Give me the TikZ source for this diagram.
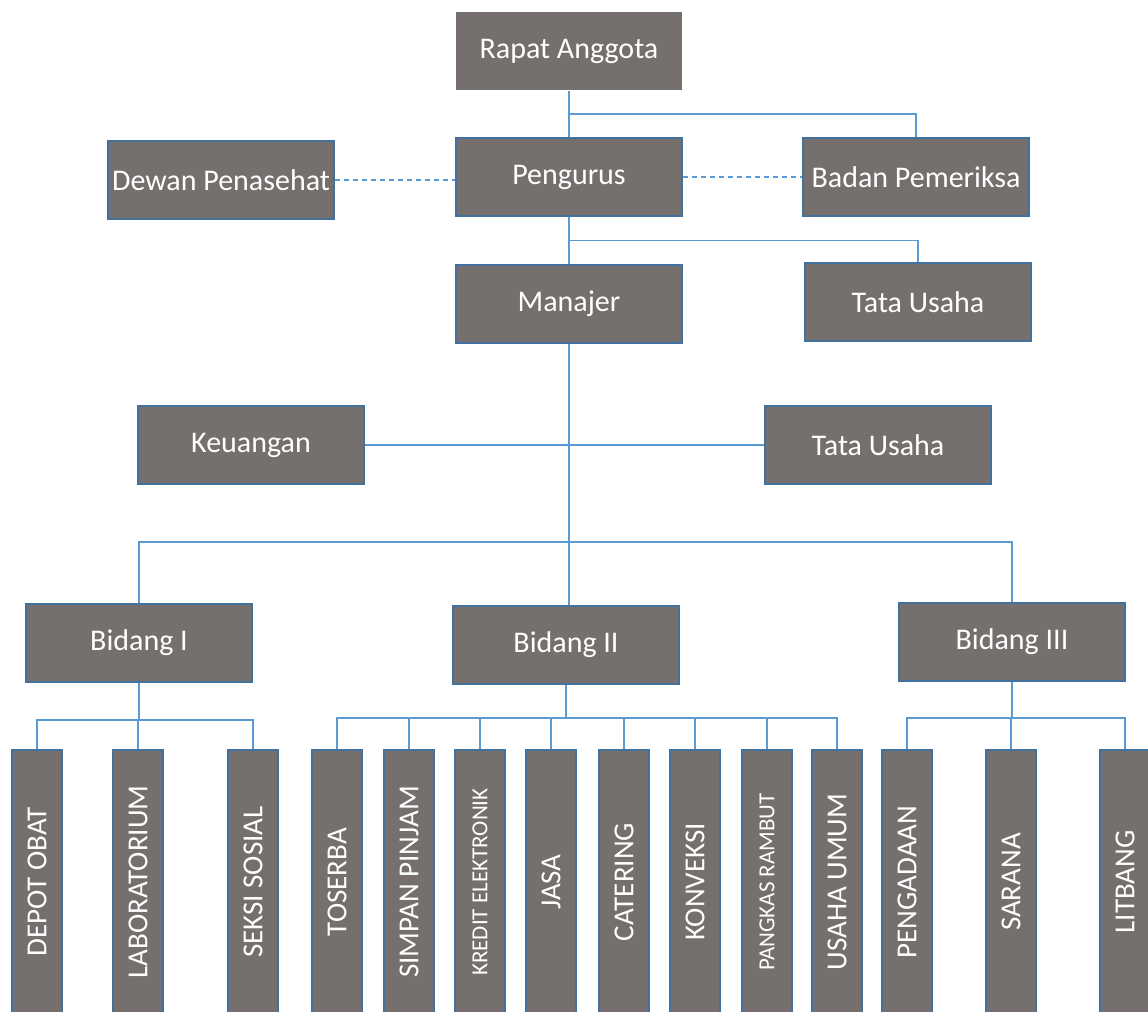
\documentclass[tikz,border=0pt]{standalone}
\usepackage{fontspec}
\setmainfont{Carlito}
\usepackage{tikz}
\usetikzlibrary{positioning, calc}
\definecolor{boxGray}{RGB}{117,112,110}
\definecolor{boxBorder}{RGB}{65,113,156}
\definecolor{linkBlue}{RGB}{91,155,213}
\tikzstyle{unitBox}=[draw=boxBorder, line width=1pt, fill=boxGray, text=white, minimum width=113pt, minimum height=39pt, inner sep=1pt, font=\fontsize{15}{18}\selectfont]
\tikzstyle{topBox}=[unitBox, draw=none]
\tikzstyle{sectionBox}=[unitBox, rotate=90, minimum width=132pt, minimum height=25pt]
\tikzstyle{orgLine}=[draw=linkBlue, line width=0.6pt]
\tikzstyle{adviceLine}=[orgLine, dash pattern=on 2.5pt off 2pt]

\begin{document}
\begin{tikzpicture}[x=0.5pt, y=-0.5pt]
      \useasboundingbox (0,0) rectangle (1148,1012);
      \clip (0,0) rectangle (1148,1012);

      % top of the chart
      \node[topBox] (rapat) at (569,51) {Rapat Anggota};
      \node[unitBox] (pengurus) at (569,177) {Pengurus};
      \node[unitBox] (dewan) at (221,180) {Dewan Penasehat};
      \node[unitBox] (badan) at (916,177) {Badan Pemeriksa};
      \node[unitBox] (manajer) at (569,304) {Manajer};
      \node[unitBox] (tataUsahaA) at (918,302) {Tata Usaha};
      \node[unitBox] (keuangan) at (251,445) {Keuangan};
      \node[unitBox] (tataUsahaB) at (878,445) {Tata Usaha};

      % bidang
      \node[unitBox] (bidang1) at (139,643) {Bidang I};
      \node[unitBox] (bidang2) at (566,645) {Bidang II};
      \node[unitBox] (bidang3) at (1012,642) {Bidang III};

      % sections below each bidang
      \foreach \x/\n/\fs/\t in {37/depot/14.5/DEPOT OBAT, 138/lab/14.5/LABORATORIUM,
        253/sosial/14.5/SEKSI SOSIAL, 337/toserba/14.5/TOSERBA,
        409/simpan/14.5/SIMPAN PINJAM, 480/kredit/11.5/KREDIT ELEKTRONIK,
        551/jasa/14.5/JASA, 624/catering/14.5/CATERING,
        695/konveksi/14.5/KONVEKSI, 767/pangkas/11.5/PANGKAS RAMBUT,
        837/usaha/14.5/USAHA UMUM, 907/pengadaan/14.5/PENGADAAN,
        1011/sarana/14.5/SARANA, 1125/litbang/14.5/LITBANG}{
        \node[sectionBox, font=\fontsize{\fs}{17}\selectfont] (\n) at (\x,882) {\t};
      }

      \coordinate (bus1) at ($(bidang1.south)+(0,37)$);
      \coordinate (bus2) at ($(bidang2.south)+(0,33)$);
      \coordinate (bus3) at ($(bidang3.south)+(0,36)$);
      \coordinate (busBidang) at (565,542);

      \draw[orgLine] (rapat.south) -- (pengurus.north);
      \draw[orgLine] ($(rapat.south)!0.5!(pengurus.north)$) -| (badan.north);
      \draw[adviceLine] (dewan.east) -- (dewan.east -| pengurus.west);
      \draw[adviceLine] (pengurus.east) -- (badan.west);
      \draw[orgLine] (pengurus.south) -- (manajer.north);
      \draw[orgLine] ($(pengurus.south)!0.5!(manajer.north)$) -| (tataUsahaA.north);
      \draw[orgLine] (manajer.south) -- (manajer.south |- bidang2.north);
      \draw[orgLine] (keuangan.east) -- (tataUsahaB.west);
      \draw[orgLine] (busBidang) -| (bidang1.north);
      \draw[orgLine] (busBidang) -| (bidang3.north);

      \draw[orgLine] (bidang1.south) -- (bus1);
      \draw[orgLine] (bidang2.south) -- (bus2);
      \draw[orgLine] (bidang3.south) -- (bus3);
      \foreach \c in {depot, lab, sosial}{
        \draw[orgLine] (bus1) -| (\c.east);
      }
      \foreach \c in {toserba, simpan, kredit, jasa, catering, konveksi, pangkas, usaha}{
        \draw[orgLine] (bus2) -| (\c.east);
      }
      \foreach \c in {pengadaan, sarana, litbang}{
        \draw[orgLine] (bus3) -| (\c.east);
      }
\end{tikzpicture}
\end{document}
